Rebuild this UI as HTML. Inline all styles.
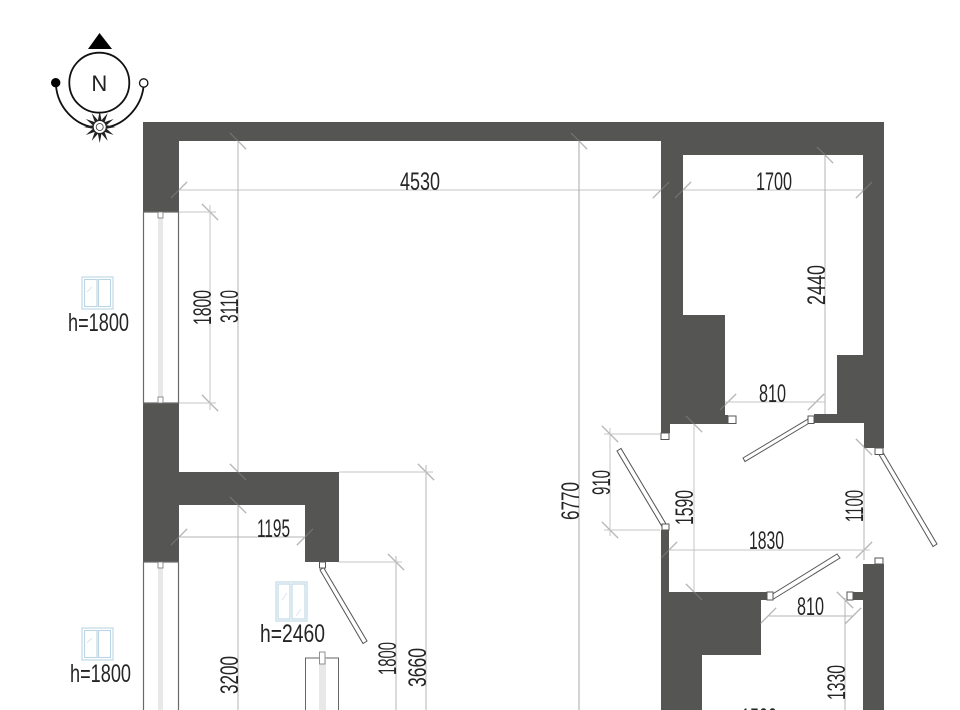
<!DOCTYPE html>
<html><head><meta charset="utf-8"><style>
html,body{margin:0;padding:0;background:#fff;width:960px;height:710px;overflow:hidden}
svg{display:block;filter:blur(.3px)}
text{font-family:"Liberation Sans",sans-serif;fill:#252525;font-size:25px}
</style></head><body>
<svg width="960" height="710" viewBox="0 0 960 710" xmlns="http://www.w3.org/2000/svg">
<defs>
<g id="tick"><line x1="-8" y1="8" x2="8" y2="-8"/></g>
<g id="tock"><line x1="-8" y1="-8" x2="8" y2="8"/></g>
<g id="ticks">
<use href="#tick" x="179" y="190"/><use href="#tick" x="661" y="190"/><use href="#tick" x="683" y="190"/><use href="#tick" x="864" y="190"/>
<use href="#tock" x="238" y="141"/><use href="#tock" x="579" y="141"/><use href="#tock" x="825" y="155"/>
<use href="#tock" x="210" y="212"/><use href="#tock" x="210" y="403"/>
<use href="#tock" x="238" y="472"/><use href="#tock" x="238" y="505"/>
<use href="#tock" x="426" y="472"/><use href="#tock" x="396" y="562"/>
<use href="#tick" x="179" y="537"/><use href="#tick" x="305" y="537"/>
<use href="#tock" x="610" y="434"/><use href="#tock" x="610" y="530"/>
<use href="#tock" x="694" y="424"/><use href="#tick" x="669" y="550"/><use href="#tock" x="694" y="592"/>
<use href="#tick" x="864" y="550"/><use href="#tock" x="864" y="447"/>
<use href="#tick" x="728" y="402"/><use href="#tick" x="816" y="402"/>
<use href="#tick" x="768" y="616"/><use href="#tick" x="853" y="616"/><use href="#tock" x="845" y="600"/>
</g>
</defs>

<!-- dimension lines -->
<g stroke="#c4c4c4" stroke-width="1" fill="none">
<line x1="171" y1="190" x2="872" y2="190"/>
<line x1="238" y1="133" x2="238" y2="710" stroke="#b4b4b4"/>
<line x1="579" y1="133" x2="579" y2="710" stroke="#a8a8a8"/>
<line x1="825" y1="148" x2="825" y2="414" stroke="#b4b4b4"/>
<line x1="179" y1="212" x2="216" y2="212"/>
<line x1="179" y1="403" x2="216" y2="403"/>
<line x1="210" y1="205" x2="210" y2="410"/>
<line x1="339" y1="472" x2="433" y2="472"/>
<line x1="426" y1="465" x2="426" y2="710" stroke="#b4b4b4"/>
<line x1="339" y1="562" x2="402" y2="562"/>
<line x1="396" y1="556" x2="396" y2="710" stroke="#b4b4b4"/>
<line x1="173" y1="537" x2="312" y2="537" stroke="#b4b4b4"/>
<line x1="604" y1="434" x2="660" y2="434"/>
<line x1="604" y1="530" x2="660" y2="530"/>
<line x1="610" y1="428" x2="610" y2="536"/>
<line x1="694" y1="418" x2="694" y2="592"/>
<line x1="662" y1="550" x2="870" y2="550"/>
<line x1="864" y1="445" x2="864" y2="560" stroke="#b4b4b4"/>
<line x1="725" y1="402" x2="825" y2="402"/>
<line x1="768" y1="616" x2="853" y2="616" stroke="#b4b4b4"/>
<line x1="845" y1="598" x2="845" y2="710" stroke="#b4b4b4"/>
</g>
<use href="#ticks" stroke="#b0b0b0" stroke-width="1"/>

<!-- walls -->
<g fill="#555553">
<path d="M143 122H884V448H864V423H814V414H837V355H863V155H683V315H725V415H728V424H670V433H661V141H179V212H143Z"/>
<path d="M143 403H179V472H339V562H305V505H179V562H143Z"/>
<path d="M661 530H669V592H767V600H761V655H702V710H661Z"/>
<path d="M863 564H884V710H863Z"/>
<path d="M853 592H863V600H853Z"/>
</g>
<use href="#ticks" stroke="#333" stroke-width="1" style="mix-blend-mode:screen"/>

<!-- windows left wall -->
<g stroke="#6a6a6a" stroke-width="1.200" fill="none">
<path d="M143.500 212V403M178.500 212V403M143 212H179M143 403H179"/>
<path d="M143.500 562V710M178.500 562V710M143 562H179"/>
</g>
<rect x="158" y="212" width="5" height="191" fill="#e8e8e8"/>
<rect x="158" y="562" width="5" height="148" fill="#e8e8e8"/>
<g fill="#fff" stroke="#777" stroke-width="0.800">
<rect x="158" y="212" width="5" height="6"/>
<rect x="158" y="397" width="5" height="6"/>
<rect x="158" y="562" width="5" height="6"/>
</g>

<!-- lower window -->
<path d="M305.500 710V658H338.500V710" fill="none" stroke="#666" stroke-width="1"/>
<rect x="319" y="658" width="7" height="52" fill="#e8e8e8"/>
<rect x="319.500" y="652" width="5.500" height="12" fill="#fff" stroke="#777" stroke-width="0.800"/>

<!-- doors -->
<g fill="#fff" stroke="#555" stroke-width="1">
<polygon points="320,570 323.500,567.500 367,641 363,643.500"/>
<rect x="319.500" y="562" width="6" height="6"/>
<polygon points="617,451 621,448.500 666,524 662,526.500"/>
<rect x="661" y="433" width="8" height="6.500"/>
<rect x="662" y="524" width="7" height="6"/>
<polygon points="743,458 745,461.500 811,422 809,418.500"/>
<rect x="728" y="416" width="8" height="7.500"/>
<rect x="808" y="416" width="6" height="7.500"/>
<polygon points="879,454.500 883,452.500 937,544 933,546.500"/>
<rect x="875" y="448" width="8" height="6.500"/>
<polygon points="771,595 773.500,599 840,558 837,554"/>
<rect x="767" y="592" width="6" height="8"/>
<rect x="847" y="592" width="6" height="8"/>
<rect x="875" y="558" width="8" height="6"/>
</g>

<!-- window icons -->
<g fill="#fff" stroke="#bcd5e4" stroke-width="1.100">
<rect x="82" y="277" width="31" height="32"/><rect x="84.500" y="279.500" width="12.500" height="27"/><rect x="98.500" y="279.500" width="12" height="27"/>
<rect x="82" y="628" width="31" height="32"/><rect x="84.500" y="630.500" width="12.500" height="27"/><rect x="98.500" y="630.500" width="12" height="27"/>
<rect x="276" y="582" width="31" height="39"/><rect x="278" y="584" width="12" height="35"/><rect x="292" y="584" width="13" height="35"/>
</g>
<g stroke="#d8e6ee" stroke-width="1" fill="none">
<path d="M87 292L92 287M87 643L92 638M282 600L287 593M296 616L301 609"/>
</g>

<!-- compass -->
<g fill="none" stroke="#111" stroke-width="1.800">
<circle cx="99.300" cy="82.700" r="30"/>
<path d="M56 86C58 108 75 124 92 127M143.500 87C141 108 124 124 108 127"/>
</g>
<polygon points="99.500,33 88,49 112,49" fill="#000"/>
<circle cx="55.700" cy="82.700" r="4.700" fill="#000"/>
<circle cx="143.700" cy="83" r="4.200" fill="#fff" stroke="#111" stroke-width="1.300"/>
<g transform="translate(99.700,127)">
<polygon points="0,-16 1.800,-6.800 8,-13.900 4.900,-4.900 13.900,-8 6.800,-1.800 16,0 6.800,1.800 13.900,8 4.900,4.900 8,13.900 1.800,6.800 0,16 -1.800,6.800 -8,13.900 -4.900,4.900 -13.900,8 -6.800,1.800 -16,0 -6.800,-1.800 -13.900,-8 -4.900,-4.900 -8,-13.900 -1.800,-6.800" fill="#222"/>
<circle r="6.500" fill="#fff" stroke="#222" stroke-width="1"/>
<circle r="3.500" fill="#fff" stroke="#333" stroke-width="0.800"/>
</g>
<text x="99.300" y="91" text-anchor="middle" style="font-size:22px;fill:#222">N</text>

<!-- labels -->
<text x="400" y="190" textLength="40" lengthAdjust="spacingAndGlyphs">4530</text>
<text x="756" y="190" textLength="36" lengthAdjust="spacingAndGlyphs">1700</text>
<text x="759" y="402" textLength="27" lengthAdjust="spacingAndGlyphs">810</text>
<text x="749" y="549" textLength="35" lengthAdjust="spacingAndGlyphs">1830</text>
<text x="797" y="615" textLength="27" lengthAdjust="spacingAndGlyphs">810</text>
<text x="257" y="537" textLength="33" lengthAdjust="spacingAndGlyphs">1195</text>
<text x="68" y="331" textLength="61" lengthAdjust="spacingAndGlyphs">h=1800</text>
<text x="70" y="682" textLength="61" lengthAdjust="spacingAndGlyphs">h=1800</text>
<text x="260" y="642" textLength="65" lengthAdjust="spacingAndGlyphs">h=2460</text>
<text transform="translate(211,325) rotate(-90)" textLength="35" lengthAdjust="spacingAndGlyphs">1800</text>
<text transform="translate(238,323) rotate(-90)" textLength="33" lengthAdjust="spacingAndGlyphs">3110</text>
<text transform="translate(825,305) rotate(-90)" textLength="40" lengthAdjust="spacingAndGlyphs">2440</text>
<text transform="translate(579,520) rotate(-90)" textLength="38" lengthAdjust="spacingAndGlyphs">6770</text>
<text transform="translate(610,495) rotate(-90)" textLength="25" lengthAdjust="spacingAndGlyphs">910</text>
<text transform="translate(693,525) rotate(-90)" textLength="35" lengthAdjust="spacingAndGlyphs">1590</text>
<text transform="translate(863,522) rotate(-90)" textLength="32" lengthAdjust="spacingAndGlyphs">1100</text>
<text transform="translate(238,694) rotate(-90)" textLength="38" lengthAdjust="spacingAndGlyphs">3200</text>
<text transform="translate(396,675) rotate(-90)" textLength="33" lengthAdjust="spacingAndGlyphs">1800</text>
<text transform="translate(426,687) rotate(-90)" textLength="39" lengthAdjust="spacingAndGlyphs">3660</text>
<text transform="translate(845,700) rotate(-90)" textLength="35" lengthAdjust="spacingAndGlyphs">1330</text>
<text x="741" y="726" textLength="36" lengthAdjust="spacingAndGlyphs">1500</text>
</svg>
</body></html>
